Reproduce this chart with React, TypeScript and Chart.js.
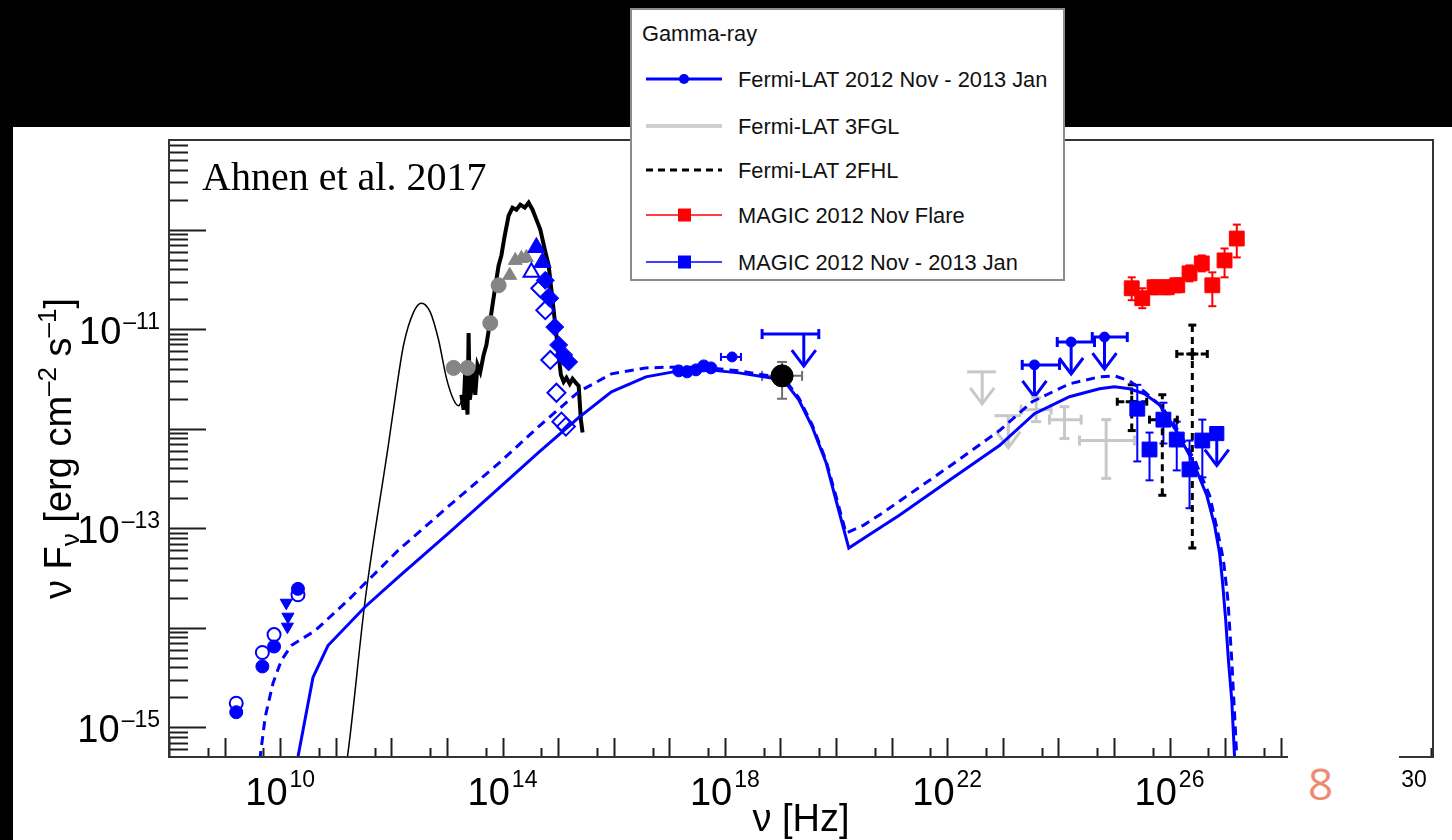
import React, { useEffect, useRef } from "react";
import { Chart, registerables } from "chart.js";

Chart.register(...registerables);

// All values: [log10(ν / Hz), log10(νFν / erg cm^-2 s^-1)].

const hostThermalLog: number[][] = [
  [11.17, -15.43], [11.21, -15.3], [11.53, -13.72], [11.95, -12.15], [12.09, -11.61],
  [12.22, -11.16], [12.4, -10.83], [12.54, -10.74], [12.7, -10.83], [12.85, -11.11],
  [12.99, -11.49], [13.12, -11.71], [13.21, -11.77], [13.28, -11.71],
];

const opticalSpectrumLog: number[][] = [
  [13.26, -11.66], [13.3, -11.81], [13.33, -11.41], [13.37, -11.86], [13.39, -11.04],
  [13.41, -11.71], [13.44, -11.61], [13.48, -11.41], [13.51, -11.66], [13.55, -11.36],
  [13.6, -11.43], [13.66, -11.26], [13.71, -11.16], [13.78, -10.91], [13.86, -10.61],
  [13.93, -10.36], [13.98, -10.26], [14.04, -10.06], [14.11, -9.86], [14.18, -9.78],
  [14.25, -9.8], [14.32, -9.75], [14.4, -9.78], [14.47, -9.73], [14.54, -9.8],
  [14.61, -9.9], [14.68, -10.0], [14.76, -10.2], [14.83, -10.36], [14.88, -10.61],
  [14.94, -10.91], [14.99, -11.16], [15.05, -11.46], [15.1, -11.53], [15.15, -11.49],
  [15.21, -11.55], [15.26, -11.5], [15.32, -11.54], [15.37, -11.57], [15.41, -11.91],
  [15.44, -12.04],
];

const modelSolidLog: number[][] = [
  [10.29, -15.53], [10.32, -15.3], [10.59, -14.5], [10.86, -14.18], [11.53, -13.79],
  [12.13, -13.49], [13.03, -13.05], [13.93, -12.6], [14.65, -12.24], [15.37, -11.89],
  [15.96, -11.63], [16.58, -11.48], [17.17, -11.42], [17.71, -11.41], [18.25, -11.44],
  [18.7, -11.48], [19.03, -11.51], [19.15, -11.58], [19.33, -11.71], [19.57, -11.98],
  [19.82, -12.34], [20.0, -12.72], [20.23, -13.2], [20.59, -13.07], [21.14, -12.87],
  [22.04, -12.52], [22.94, -12.17], [23.57, -11.85], [24.2, -11.68], [24.74, -11.6],
  [25.01, -11.58], [25.28, -11.6], [25.55, -11.65], [25.82, -11.76], [26.13, -12.03],
  [26.41, -12.32], [26.67, -12.67], [26.81, -12.97], [26.9, -13.25], [26.95, -13.52],
  [27.01, -13.92], [27.06, -14.33], [27.12, -14.73], [27.17, -15.3], [27.21, -15.73],
];

const modelDashedLog: number[][] = [
  [9.6, -15.63], [9.64, -15.3], [9.73, -14.9], [9.87, -14.56], [10.02, -14.33],
  [10.2, -14.18], [10.63, -14.03], [11.23, -13.72], [12.13, -13.22], [13.03, -12.78],
  [13.93, -12.35], [14.65, -11.98], [15.37, -11.63], [15.96, -11.45], [16.58, -11.39],
  [17.17, -11.38], [17.71, -11.39], [18.25, -11.42], [18.7, -11.46], [19.03, -11.49],
  [19.15, -11.56], [19.33, -11.69], [19.57, -11.96], [19.82, -12.32], [20.02, -12.72],
  [20.18, -13.05], [20.5, -12.97], [20.83, -12.85], [22.04, -12.38], [22.94, -12.02],
  [23.53, -11.73], [24.2, -11.55], [24.74, -11.48], [25.01, -11.47], [25.28, -11.52],
  [25.55, -11.63], [25.86, -11.78], [26.18, -12.04], [26.47, -12.34], [26.72, -12.67],
  [26.86, -13.02], [26.97, -13.32], [27.05, -13.72], [27.12, -14.33], [27.21, -15.3],
  [27.24, -15.73],
];

const radioFilledLog: number[][] = [[9.21, -14.85], [9.68, -14.39], [9.89, -14.19], [10.32, -13.61]];
const radioOpenLog: number[][] = [[9.21, -14.76], [9.68, -14.25], [9.89, -14.07], [10.32, -13.67]];
const radioTrianglesLog: number[][] = [[10.11, -13.75], [10.14, -13.89], [10.13, -13.99]];

const irCirclesLog: number[][] = [[13.12, -11.39], [13.37, -11.39], [13.78, -10.94], [13.93, -10.56]];
const irTrianglesLog: number[][] = [[14.13, -10.46], [14.23, -10.31], [14.34, -10.29], [14.43, -10.28]];

const uvTrianglesLog: number[][] = [[14.61, -10.18], [14.72, -10.33]];
const uvTriangleOpenLog: number[][] = [[14.52, -10.43]];
const uvDiamondsFilledLog: number[][] = [
  [14.77, -10.51], [14.85, -10.69], [14.94, -10.98], [15.01, -11.16], [15.1, -11.26], [15.19, -11.33],
];
const uvDiamondsOpenLog: number[][] = [
  [14.68, -10.59], [14.77, -10.81], [14.86, -11.31], [14.97, -11.64], [15.06, -11.93], [15.14, -11.98],
];

const xrayLog: number[][] = [[17.17, -11.42], [17.32, -11.43], [17.48, -11.41], [17.62, -11.37], [17.75, -11.39]];
// [log ν, log ν min, log ν max, log νFν]
const xrayBandLog: number[][] = [[18.13, 17.93, 18.29, -11.28]];
// [log ν, log ν min, log ν max, log νFν, log νFν min, log νFν max]
const hardXrayLog: number[][] = [[19.03, 18.67, 19.39, -11.47, -11.7, -11.33]];
const hardXrayLimitLog: number[][] = [[19.42, 18.67, 19.69, -11.05]];

const fgl3LimitsLog: number[][] = [[22.63, 22.36, 22.88, -11.43], [23.1, 22.85, 23.33, -11.87]];
const fgl3PointsLog: number[][] = [
  [23.6, 23.33, 23.87, -11.81, -11.93, -11.69],
  [24.11, 23.84, 24.41, -11.91, -12.1, -11.78],
  [24.86, 24.38, 25.37, -12.12, -12.5, -11.91],
];
const fermiLimitsLog: number[][] = [
  [23.57, 23.35, 24.02, -11.36], [24.23, 23.98, 24.65, -11.13], [24.83, 24.61, 25.24, -11.08],
];
const fhl2PointsLog: number[][] = [
  [25.32, 25.06, 25.59, -11.73, -12.02, -11.56],
  [25.87, 25.64, 26.14, -11.91, -12.67, -11.66],
  [26.41, 26.13, 26.68, -11.25, -13.2, -10.96],
];
// [log ν, log νFν, log νFν min, log νFν max]
const magicFlareLog: number[][] = [
  [25.32, -10.59, -10.71, -10.48], [25.51, -10.69, -10.79, -10.59], [25.73, -10.58, -10.65, -10.51],
  [25.95, -10.58, -10.65, -10.51], [26.14, -10.56, -10.63, -10.49], [26.36, -10.44, -10.52, -10.36],
  [26.58, -10.34, -10.42, -10.26], [26.77, -10.56, -10.77, -10.43], [26.99, -10.31, -10.48, -10.19],
  [27.21, -10.09, -10.28, -9.95],
];
const magicLowLog: number[][] = [
  [25.42, -11.8, -12.33, -11.56], [25.64, -12.21, -12.52, -12.04], [25.89, -11.91, -12.15, -11.74],
  [26.13, -12.11, -12.42, -11.93], [26.36, -12.41, -12.8, -12.12], [26.59, -12.12, -12.49, -11.91],
];
const magicLimitLog: number[][] = [[26.85, -12.05]];

const xLabelExponents = [10, 14, 18, 22, 26, 30];
const yLabelExponents = [-15, -13, -11];
const xRangeLog = [8, 30.74];
const yRangeLog = [-15.3, -9.1];

const xTitle = "\u03bd [Hz]";
// y title pieces: [text, kind] kind: n = normal, sub = subscript, sup = superscript
const yTitleParts: [string, string][] = [
  ["\u03bd F", "n"], ["\u03bd", "sub"], [" [erg cm", "n"], ["-2", "sup"], [" s", "n"], ["-1", "sup"], ["]", "n"],
];

const legendTitle = "Gamma-ray";
const legendLabels = [
  "Fermi-LAT 2012 Nov - 2013 Jan",
  "Fermi-LAT 3FGL",
  "Fermi-LAT 2FHL",
  "MAGIC 2012 Nov Flare",
  "MAGIC 2012 Nov - 2013 Jan",
];

// ---------- helpers ----------
const P = (r: number[]) => ({ x: 10 ** r[0], y: 10 ** r[1] });
const PLimit = (r: number[]) => ({ x: 10 ** r[0], y: 10 ** r[1], limit: true });
const PBandLimit = (r: number[]) => ({ x: 10 ** r[0], xMin: 10 ** r[1], xMax: 10 ** r[2], y: 10 ** r[3], limit: true });
const PBand = (r: number[]) => ({ x: 10 ** r[0], xMin: 10 ** r[1], xMax: 10 ** r[2], y: 10 ** r[3] });
const PCross = (r: number[]) => ({
  x: 10 ** r[0], xMin: 10 ** r[1], xMax: 10 ** r[2], y: 10 ** r[3], yMin: 10 ** r[4], yMax: 10 ** r[5],
});
const PYErr = (r: number[]) => ({ x: 10 ** r[0], y: 10 ** r[1], yMin: 10 ** r[2], yMax: 10 ** r[3] });

const BLUE = "#0000ff";
const RED = "#ff0000";
const GRAY = "#858585";
const LIGHT = "#c8c8c8";
const SANS = '"Liberation Sans", Arial, Helvetica, sans-serif';
const BIG = 38;
const SMALL = 23;

const expText = (v: number) => String(Math.round(Math.log10(v))).replace("-", "\u2013");

const errorBarPlugin = {
  id: "rootErrorBars",
  beforeDatasetsDraw(chart: any) {
    const { ctx, chartArea: a } = chart;
    const xs = chart.scales.x;
    const ys = chart.scales.y;
    ctx.save();
    ctx.beginPath();
    ctx.rect(a.left, a.top, a.right - a.left, a.bottom - a.top);
    ctx.clip();
    chart.data.datasets.forEach((ds: any) => {
      const st = ds.errorStyle;
      if (!st) return;
      ctx.strokeStyle = st.color;
      ctx.lineWidth = st.width;
      const seg = (x1: number, y1: number, x2: number, y2: number, dashed: boolean) => {
        ctx.setLineDash(dashed && st.dash ? st.dash : []);
        ctx.beginPath();
        ctx.moveTo(x1, y1);
        ctx.lineTo(x2, y2);
        ctx.stroke();
      };
      ds.data.forEach((p: any) => {
        const px = xs.getPixelForValue(p.x);
        const py = ys.getPixelForValue(p.y);
        if (p.xMin !== undefined) {
          const x1 = xs.getPixelForValue(p.xMin);
          const x2 = xs.getPixelForValue(p.xMax);
          seg(x1, py, x2, py, true);
          if (st.cap) {
            seg(x1, py - st.cap, x1, py + st.cap, false);
            seg(x2, py - st.cap, x2, py + st.cap, false);
          }
        }
        if (p.yMin !== undefined) {
          const y1 = ys.getPixelForValue(p.yMin);
          const y2 = ys.getPixelForValue(p.yMax);
          seg(px, y1, px, y2, true);
          if (st.cap) {
            seg(px - st.cap, y1, px + st.cap, y1, false);
            seg(px - st.cap, y2, px + st.cap, y2, false);
          }
        }
        if (p.limit) {
          const tip = py + st.arrowLen;
          seg(px, py, px, tip, false);
          ctx.setLineDash([]);
          ctx.beginPath();
          ctx.moveTo(px - st.headW, tip - st.headH);
          ctx.lineTo(px, tip);
          ctx.lineTo(px + st.headW, tip - st.headH);
          ctx.stroke();
        }
      });
    });
    ctx.restore();
  },
};

const framePlugin = {
  id: "rootFrame",
  afterDraw(chart: any) {
    const { ctx, chartArea: a } = chart;
    const xs = chart.scales.x;
    const ys = chart.scales.y;
    ctx.save();
    ctx.strokeStyle = "#1e1e1e";
    ctx.lineWidth = 2;
    ctx.setLineDash([]);
    const line = (x1: number, y1: number, x2: number, y2: number) => {
      ctx.beginPath();
      ctx.moveTo(x1, y1);
      ctx.lineTo(x2, y2);
      ctx.stroke();
    };
    for (let n = -17; n <= -8; n++) {
      for (let k = 1; k <= 9; k++) {
        const v = k * 10 ** n;
        if (v < ys.min || v > ys.max) continue;
        const py = Math.round(ys.getPixelForValue(v)) + 0.5;
        line(a.left, py, a.left + (k === 1 ? 37 : 19), py);
      }
    }
    for (let n = 7; n <= 31; n++) {
      [[1, 19], [5, 9]].forEach(([k, len]) => {
        const v = k * 10 ** n;
        if (v < xs.min || v > xs.max) return;
        const px = Math.round(xs.getPixelForValue(v)) + 0.5;
        line(px, a.bottom, px, a.bottom - len);
      });
    }
    ctx.strokeStyle = "#333";
    ctx.strokeRect(a.left, a.top, a.right - a.left, a.bottom - a.top);

    // decade tick labels (10 with a superscript exponent), from the scales' ticks
    ctx.fillStyle = "#000";
    ctx.textBaseline = "alphabetic";
    ctx.textAlign = "left";
    const bigFont = `${BIG}px ${SANS}`;
    const smallFont = `${SMALL}px ${SANS}`;
    xs.ticks.forEach((t: any) => {
      const px = xs.getPixelForValue(t.value);
      const e = expText(t.value);
      ctx.font = bigFont;
      const w1 = ctx.measureText("10").width;
      ctx.font = smallFont;
      const w2 = ctx.measureText(e).width;
      const x0 = px - (w1 + 2 + w2) / 2;
      ctx.font = bigFont;
      ctx.fillText("10", x0, a.bottom + 48);
      ctx.font = smallFont;
      ctx.fillText(e, x0 + w1 + 2, a.bottom + 30);
    });
    ys.ticks.forEach((t: any) => {
      const py = ys.getPixelForValue(t.value);
      const e = expText(t.value);
      ctx.font = smallFont;
      const w2 = ctx.measureText(e).width;
      ctx.font = bigFont;
      const w1 = ctx.measureText("10").width;
      const xr = a.left - 9;
      ctx.fillText("10", xr - w2 - 2 - w1, py + 15);
      ctx.font = smallFont;
      ctx.fillText(e, xr - w2, py);
    });

    // y-axis title with sub/superscripts
    const subFont = `26px ${SANS}`;
    let total = 0;
    const widths = yTitleParts.map(([txt, kind]) => {
      ctx.font = kind === "n" ? bigFont : subFont;
      const w = ctx.measureText(kind === "sup" ? txt.replace("-", "\u2013") : txt).width;
      total += w;
      return w;
    });
    ctx.translate(58, (a.top + a.bottom) / 2);
    ctx.rotate(-Math.PI / 2);
    let cx = -total / 2;
    yTitleParts.forEach(([txt, kind], i) => {
      ctx.font = kind === "n" ? bigFont : subFont;
      const dy = kind === "sub" ? 21 : kind === "sup" ? -2 : 13;
      ctx.fillText(kind === "sup" ? txt.replace("-", "\u2013") : txt, cx, dy);
      cx += widths[i];
    });
    ctx.restore();
  },
};

const limitStyle = (color: string, width: number, cap: number) => ({
  color, width, cap, arrowLen: 32, headW: 12, headH: 16,
});

export default function App() {
  const canvasRef = useRef<HTMLCanvasElement | null>(null);

  useEffect(() => {
    const canvas = canvasRef.current;
    if (!canvas) return;
    const marker = (extra: any) => ({ showLine: false, clip: 0, borderWidth: 1, ...extra });
    const curve = (extra: any) => ({ showLine: true, pointRadius: 0, tension: 0, clip: 0, fill: false, ...extra });

    const datasets: any[] = [
      marker({
        label: "MAGIC UL", data: magicLimitLog.map(PLimit), pointStyle: "rect", pointRadius: 10,
        backgroundColor: BLUE, borderColor: BLUE, errorStyle: limitStyle(BLUE, 3, 0),
      }),
      marker({
        label: "MAGIC 2012 Nov - 2013 Jan", data: magicLowLog.map(PYErr), pointStyle: "rect", pointRadius: 10.5,
        backgroundColor: BLUE, borderColor: BLUE, errorStyle: { color: BLUE, width: 2, cap: 4 },
      }),
      marker({
        label: "MAGIC 2012 Nov Flare", data: magicFlareLog.map(PYErr), pointStyle: "rect", pointRadius: 10.5,
        backgroundColor: RED, borderColor: RED, errorStyle: { color: RED, width: 2, cap: 4 },
      }),
      marker({
        label: "Fermi-LAT 2FHL", data: fhl2PointsLog.map(PCross), pointStyle: "cross", pointRadius: 6,
        borderWidth: 3, borderColor: "#000", backgroundColor: "#000",
        errorStyle: { color: "#000", width: 3, cap: 4, dash: [7, 5] },
      }),
      marker({
        label: "Fermi-LAT 2012 Nov - 2013 Jan", data: fermiLimitsLog.map(PBandLimit), pointStyle: "circle",
        pointRadius: 5, backgroundColor: BLUE, borderColor: BLUE, errorStyle: limitStyle(BLUE, 3, 5),
      }),
      marker({
        label: "Fermi-LAT 3FGL", data: fgl3PointsLog.map(PCross), pointRadius: 0,
        errorStyle: { color: LIGHT, width: 3, cap: 5 },
      }),
      marker({
        label: "Fermi-LAT 3FGL UL", data: fgl3LimitsLog.map(PBandLimit), pointRadius: 0,
        errorStyle: limitStyle(LIGHT, 3, 0),
      }),
      marker({
        label: "Hard X-ray UL", data: hardXrayLimitLog.map(PBandLimit), pointRadius: 0,
        errorStyle: limitStyle(BLUE, 3, 5),
      }),
      marker({
        label: "Hard X-ray", data: hardXrayLog.map(PCross), pointStyle: "circle", pointRadius: 11,
        backgroundColor: "#000", borderColor: "#000", errorStyle: { color: "#6e6e6e", width: 2, cap: 5 },
      }),
      marker({
        label: "X-ray band", data: xrayBandLog.map(PBand), pointStyle: "circle", pointRadius: 5,
        backgroundColor: BLUE, borderColor: BLUE, errorStyle: { color: BLUE, width: 2, cap: 4 },
      }),
      marker({
        label: "X-ray", data: xrayLog.map(P), pointStyle: "circle", pointRadius: 6,
        backgroundColor: BLUE, borderColor: BLUE,
      }),
      marker({
        label: "UV filled", data: uvDiamondsFilledLog.map(P), pointStyle: "rectRot", pointRadius: 9,
        backgroundColor: BLUE, borderColor: BLUE,
      }),
      marker({
        label: "UV open", data: uvDiamondsOpenLog.map(P), pointStyle: "rectRot", pointRadius: 9,
        backgroundColor: "rgba(255,255,255,0)", borderColor: BLUE, borderWidth: 2,
      }),
      marker({
        label: "Optical filled", data: uvTrianglesLog.map(P), pointStyle: "triangle", pointRadius: 10,
        backgroundColor: BLUE, borderColor: BLUE,
      }),
      marker({
        label: "Optical open", data: uvTriangleOpenLog.map(P), pointStyle: "triangle", pointRadius: 9,
        backgroundColor: "rgba(255,255,255,0)", borderColor: BLUE, borderWidth: 2,
      }),
      marker({
        label: "IR triangles", data: irTrianglesLog.map(P), pointStyle: "triangle", pointRadius: 8,
        backgroundColor: GRAY, borderColor: GRAY,
      }),
      marker({
        label: "IR circles", data: irCirclesLog.map(P), pointStyle: "circle", pointRadius: 7.5,
        backgroundColor: GRAY, borderColor: GRAY,
      }),
      marker({
        label: "Radio filled", data: radioFilledLog.map(P), pointStyle: "circle", pointRadius: 6.5,
        backgroundColor: BLUE, borderColor: BLUE,
      }),
      marker({
        label: "Radio open", data: radioOpenLog.map(P), pointStyle: "circle", pointRadius: 6.5,
        backgroundColor: "rgba(255,255,255,0)", borderColor: BLUE, borderWidth: 2,
      }),
      marker({
        label: "Radio triangles", data: radioTrianglesLog.map(P), pointStyle: "triangle", rotation: 180,
        pointRadius: 7, backgroundColor: BLUE, borderColor: BLUE,
      }),
      curve({ label: "Model", data: modelSolidLog.map(P), borderColor: BLUE, borderWidth: 3 }),
      curve({
        label: "Model (flare)", data: modelDashedLog.map(P), borderColor: BLUE, borderWidth: 3,
        borderDash: [9, 6],
      }),
      curve({ label: "Optical spectrum", data: opticalSpectrumLog.map(P), borderColor: "#000", borderWidth: 4 }),
      curve({
        label: "Host galaxy", data: hostThermalLog.map(P), borderColor: "#000", borderWidth: 1.5,
        cubicInterpolationMode: "monotone",
      }),
    ];

    const chart = new Chart(canvas, {
      type: "scatter",
      data: { datasets },
      options: {
        animation: false,
        responsive: false,
        events: [],
        layout: { padding: { left: 0, top: 140, right: 19, bottom: 0 } },
        plugins: { legend: { display: false }, tooltip: { enabled: false } },
        scales: {
          x: {
            type: "logarithmic",
            position: "bottom",
            min: 10 ** xRangeLog[0],
            max: 10 ** xRangeLog[1],
            afterBuildTicks: (s: any) => {
              s.ticks = xLabelExponents.map((n) => ({ value: 10 ** n }));
            },
            afterFit: (s: any) => {
              s.height = 83;
            },
            grid: { display: false, drawTicks: false },
            border: { display: false },
            ticks: { display: false, autoSkip: false },
            title: {
              display: true,
              text: xTitle,
              color: "#000",
              font: { family: SANS, size: BIG, lineHeight: 1 },
              padding: 0,
            },
          },
          y: {
            type: "logarithmic",
            position: "left",
            min: 10 ** yRangeLog[0],
            max: 10 ** yRangeLog[1],
            afterBuildTicks: (s: any) => {
              s.ticks = yLabelExponents.map((n) => ({ value: 10 ** n }));
            },
            afterFit: (s: any) => {
              s.width = 169;
            },
            grid: { display: false, drawTicks: false },
            border: { display: false },
            ticks: { display: false, autoSkip: false },
            title: { display: false },
          },
        },
      } as any,
      plugins: [errorBarPlugin, framePlugin],
    });
    return () => chart.destroy();
  }, []);

  const entryCenters = [79, 126, 170, 215, 262];
  const symbols = [
    <svg width={78} height={20} key="s0">
      <line x1={0} y1={10} x2={76} y2={10} stroke={BLUE} strokeWidth={3} />
      <circle cx={38} cy={10} r={5} fill={BLUE} />
    </svg>,
    <svg width={78} height={20} key="s1">
      <line x1={0} y1={10} x2={76} y2={10} stroke="#cfcfcf" strokeWidth={4} />
    </svg>,
    <svg width={78} height={20} key="s2">
      <line x1={0} y1={10} x2={76} y2={10} stroke="#000" strokeWidth={3} strokeDasharray="7 5" />
    </svg>,
    <svg width={78} height={20} key="s3">
      <line x1={0} y1={10} x2={76} y2={10} stroke={RED} strokeWidth={1.5} />
      <rect x={32} y={3.5} width={13} height={13} fill={RED} />
    </svg>,
    <svg width={78} height={20} key="s4">
      <line x1={0} y1={10} x2={76} y2={10} stroke={BLUE} strokeWidth={1.5} />
      <rect x={32} y={3.5} width={13} height={13} fill={BLUE} />
    </svg>,
  ];

  return (
    <div style={{ position: "fixed", left: 0, top: 0, width: 1452, height: 840, background: "#000", overflow: "hidden" }}>
      <div style={{ position: "absolute", left: 13, top: 127, right: 0, bottom: 0, background: "#fff" }} />
      <canvas ref={canvasRef} width={1452} height={840} style={{ position: "absolute", left: 0, top: 0, width: 1452, height: 840 }} />
      <div
        style={{
          position: "absolute", left: 202, top: 157, fontFamily: '"Liberation Serif", "DejaVu Serif", serif',
          fontSize: 40, lineHeight: "40px", color: "#000", whiteSpace: "nowrap",
        }}
      >
        Ahnen et al. 2017
      </div>
      <div
        style={{
          position: "absolute", left: 630, top: 8, width: 435, height: 273, boxSizing: "border-box",
          border: "2px solid #8c8c8c", background: "#fff", fontFamily: SANS, fontSize: 21.8, color: "#111",
        }}
      >
        <div style={{ position: "absolute", left: 10, top: 13, lineHeight: "21px", whiteSpace: "nowrap" }}>{legendTitle}</div>
        {legendLabels.map((label, i) => (
          <React.Fragment key={label}>
            <div style={{ position: "absolute", left: 14, top: entryCenters[i] - 10 - 10, height: 20 }}>{symbols[i]}</div>
            <div style={{ position: "absolute", left: 106, top: entryCenters[i] - 10 - 10.3, lineHeight: "21px", whiteSpace: "nowrap" }}>
              {label}
            </div>
          </React.Fragment>
        ))}
      </div>
      <div style={{ position: "absolute", left: 1288, top: 736, width: 111, height: 104, background: "#fff" }}>
        <div
          style={{
            position: "absolute", left: 20, top: 25, fontFamily: '"Open Sans", "Noto Sans", sans-serif',
            fontSize: 44, lineHeight: "44px", color: "#ec8c74",
          }}
        >
          8
        </div>
      </div>
    </div>
  );
}
